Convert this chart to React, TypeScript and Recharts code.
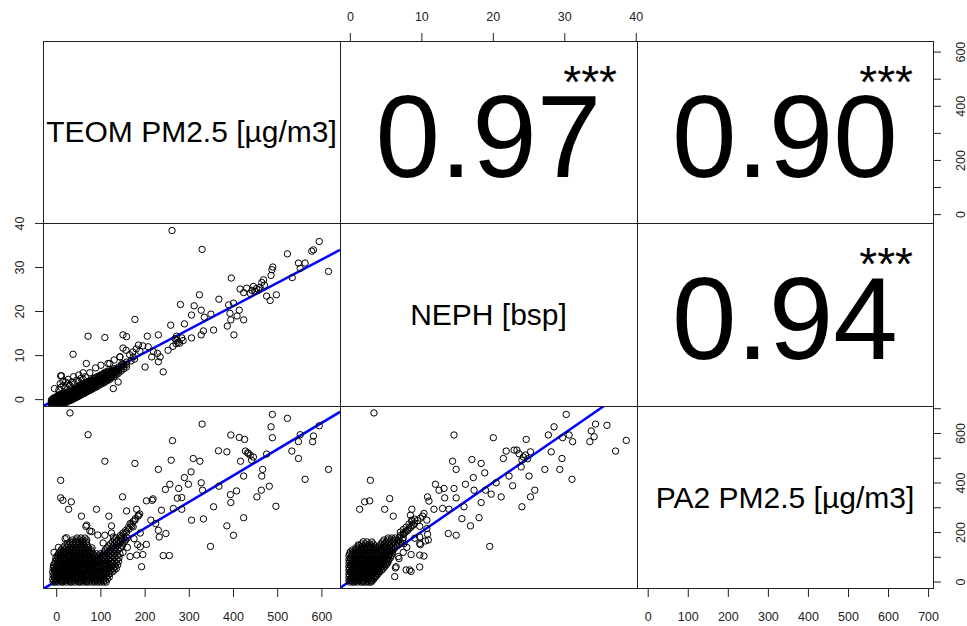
import { ReferenceLine, Scatter, ScatterChart, XAxis, YAxis } from 'recharts';

const FONT = "'Liberation Sans', Arial, Helvetica, sans-serif";

// variable order: TEOM, NEPH, PA2
const varLabels = ['TEOM PM2.5 [µg/m3]', 'NEPH [bsp]', 'PA2 PM2.5 [µg/m3]'];
const teomTicks = [0, 100, 200, 300, 400, 500, 600];
const nephTicks = [0, 10, 20, 30, 40];
const pa2Ticks = [0, 100, 200, 300, 400, 500, 600, 700];
const teomDomain: [number, number] = [-31, 641];
const nephDomain: [number, number] = [-1.45, 40.1];
const pa2Domain: [number, number] = [-28, 711];

// correlations shown in upper panels
const corrTeomNeph = '0.97';
const corrTeomPa2 = '0.90';
const corrNephPa2 = '0.94';
const corrStars = '***';

// fitted lines
const fitTeomNeph = { slope: 0.0528, intercept: 0.14 };
const fitTeomPa2 = { slope: 1.064, intercept: 5 };
const fitNephPa2 = { slope: 19.9, intercept: 5 };

// TEOM vs NEPH: dense band near the origin, as [TEOM, NEPH values]
const teomNephBand: [number, number[]][] = [
  [-12, [-1.3, -0.9, -0.5, -0.1]],
  [-10, [-1.2, -0.8, -0.3, 0.1]],
  [-7, [-1.3, -0.9, -0.5, 0.0, 0.4]],
  [-5, [-1.1, -0.6, -0.2, 0.3]],
  [-2, [-1.2, -0.8, -0.3, 0.1, 0.5]],
  [0, [-1.0, -0.6, -0.1, 0.3, 0.7]],
  [3, [-1.2, -0.7, -0.3, 0.2, 0.6, 1.0]],
  [5, [-0.9, -0.5, 0.0, 0.4, 0.8]],
  [8, [-1.0, -0.6, -0.1, 0.3, 0.8, 1.2]],
  [10, [-0.8, -0.4, 0.1, 0.5, 0.9]],
  [13, [-0.9, -0.4, 0.0, 0.4, 0.9, 1.3]],
  [15, [-0.7, -0.2, 0.2, 0.6, 1.1]],
  [18, [-0.6, -0.2, 0.3, 0.7, 1.1, 1.5]],
  [21, [-0.5, 0.0, 0.4, 0.8, 1.3]],
  [23, [-0.6, -0.1, 0.3, 0.8, 1.2, 1.6]],
  [26, [-0.3, 0.1, 0.6, 1.0, 1.4, 1.8]],
  [28, [-0.2, 0.3, 0.7, 1.1, 1.6]],
  [31, [-0.2, 0.2, 0.6, 1.1, 1.5, 1.9]],
  [34, [0.0, 0.4, 0.9, 1.3, 1.7, 2.2]],
  [36, [0.1, 0.5, 1.0, 1.4, 1.8]],
  [39, [0.2, 0.6, 1.1, 1.5, 1.9, 2.4]],
  [42, [0.4, 0.8, 1.2, 1.7, 2.1, 2.5]],
  [44, [0.5, 0.9, 1.3, 1.8, 2.2]],
  [47, [0.6, 1.0, 1.5, 1.9, 2.3, 2.8]],
  [50, [0.8, 1.2, 1.6, 2.1, 2.5, 2.9]],
  [53, [1.0, 1.4, 1.8, 2.2, 2.7, 3.1]],
  [56, [1.1, 1.5, 2.0, 2.4, 2.8, 3.2]],
  [59, [1.3, 1.7, 2.1, 2.6, 3.0, 3.4]],
  [62, [1.4, 1.8, 2.3, 2.7, 3.1, 3.6]],
  [65, [1.6, 2.0, 2.4, 2.9, 3.3, 3.7]],
  [68, [1.8, 2.2, 2.6, 3.0, 3.5, 3.9]],
  [71, [1.9, 2.3, 2.8, 3.2, 3.6, 4.0]],
  [74, [2.1, 2.5, 2.9, 3.4, 3.8, 4.2]],
  [77, [2.2, 2.6, 3.1, 3.5, 3.9, 4.4]],
  [80, [2.4, 2.8, 3.2, 3.7, 4.1, 4.5]],
  [84, [2.6, 3.0, 3.5, 3.9, 4.3, 4.8]],
  [88, [2.8, 3.2, 3.7, 4.1, 4.5, 5.0]],
  [92, [3.0, 3.4, 3.9, 4.3, 4.7, 5.2]],
  [96, [3.3, 3.7, 4.1, 4.5, 5.0, 5.4]],
  [100, [3.5, 3.9, 4.3, 4.8, 5.2, 5.6]],
  [104, [3.7, 4.1, 4.6, 5.0, 5.4, 5.8]],
  [108, [3.9, 4.4, 4.8, 5.2, 5.7, 6.1]],
  [112, [4.2, 4.6, 5.0, 5.5, 5.9, 6.3]],
  [116, [4.4, 4.8, 5.3, 5.7, 6.1, 6.5]],
  [120, [4.6, 5.1, 5.5, 5.9, 6.4]],
  [125, [5.0, 5.4, 5.8, 6.3, 6.7]],
  [130, [5.3, 5.7, 6.2, 6.6, 7.0]],
  [135, [5.7, 6.1, 6.5, 7.0]],
  [140, [6.0, 6.5, 6.9, 7.4]],
  [146, [6.5, 6.9, 7.4, 7.9]],
  [152, [7.0, 7.5, 8.0]],
  [158, [7.4, 8.0, 8.5]],
];

const teomNephOut: [number, number][] = [
  [5, 2.2], [10, 2.8], [15, 3.2], [20, 2.8], [25, 3.6], [30, 3.2], [35, 4.0], [40, 3.6], [45, 4.4],
  [50, 4.1], [55, 4.8], [60, 4.6], [65, 5.2], [8, 3.6], [14, 4.2], [26, 4.6], [38, 5.2], [50, 5.6],
  [11, 5.4], [60, 6.1], [75, 6.1], [67, 8.2], [116, 8.2], [143, 9.7], [150, 11.7], [88, 7.2],
  [100, 7.8], [130, 9.0], [-5, 2.5], [20, 4.0],
  [261, 38.4], [329, 34.1], [594, 35.9], [577, 33.7], [581, 34.0], [615, 29.1], [522, 33.1],
  [547, 31.0], [562, 31.0], [533, 27.7], [551, 29.8], [489, 30.1], [487, 29.5], [485, 28.2],
  [497, 23.8], [483, 22.5], [475, 23.5], [395, 27.6], [415, 25.1], [430, 25.3], [445, 25.7],
  [457, 24.9], [464, 26.6], [468, 27.2], [438, 24.1], [423, 24.3], [448, 24.6], [452, 25.2],
  [460, 25.5], [442, 24.8], [470, 26.0], [389, 21.5], [400, 21.9], [413, 20.3], [392, 19.6],
  [408, 19.0], [394, 18.1], [423, 18.1], [386, 16.7], [401, 14.7], [367, 22.8], [355, 15.8],
  [349, 19.4], [334, 18.7], [327, 20.3], [323, 23.8], [311, 21.3], [305, 19.2], [280, 21.6],
  [289, 17.2], [283, 14.0], [305, 14.0], [332, 15.6], [327, 14.7], [258, 16.9], [271, 14.4],
  [286, 13.4], [278, 12.8], [263, 12.1], [252, 11.2], [272, 13.5], [275, 13.0], [270, 12.7],
  [268, 13.8], [241, 6.3], [230, 14.7], [205, 14.4], [207, 12.0], [228, 10.5], [234, 9.7],
  [215, 9.7], [219, 10.9], [200, 7.4], [230, 8.6], [177, 18.2], [185, 12.4], [173, 9.7],
  [157, 11.2], [150, 14.7], [158, 14.3], [143, 9.7], [128, 2.5], [139, 4.0], [71, 14.4],
  [109, 14.1], [37, 10.3], [9, 5.4], [120, 8.2], [150, 8.2], [97, 5.2], [165, 10.2], [172, 10.8],
  [180, 11.5], [188, 11.0], [195, 12.2], [168, 8.8], [176, 9.2],
];

// TEOM vs PA2: dense block near the origin, as [PA2, TEOM values]
const teomPa2Rows: [number, number[]][] = [
  [0, [-8, -3, 3, 11, 15, 22, 30, 34, 41, 49, 53, 60, 67, 72, 80, 86, 93, 99, 106, 112]],
  [6, [-6, 0, 7, 12, 19, 26, 31, 38, 44, 51, 57, 64, 69, 76, 83, 89, 96, 103, 110]],
  [13, [-9, -2, 4, 9, 16, 23, 28, 35, 43, 47, 55, 61, 66, 74, 79, 87, 92, 100, 107, 115]],
  [20, [-5, 1, 8, 14, 18, 25, 33, 39, 45, 50, 58, 63, 71, 77, 84, 90, 97, 104, 112, 119]],
  [27, [-8, -1, 5, 11, 20, 24, 29, 36, 42, 48, 54, 62, 68, 73, 81, 88, 94, 101, 108, 116]],
  [34, [-6, 2, 6, 13, 17, 27, 32, 37, 46, 52, 56, 65, 70, 78, 83, 91, 98, 105, 113, 120]],
  [41, [-9, -3, 3, 9, 15, 21, 26, 34, 40, 44, 51, 59, 63, 71, 76, 85, 89, 96, 103, 111, 118, 126]],
  [48, [-5, 0, 7, 12, 18, 24, 31, 36, 43, 49, 55, 61, 67, 74, 80, 86, 93, 100, 108, 115, 122, 130]],
  [55, [-8, -2, 4, 10, 16, 23, 28, 33, 40, 47, 53, 57, 64, 70, 77, 83, 90, 97, 104, 112, 119, 128, 135]],
  [62, [-6, 1, 6, 13, 19, 26, 30, 38, 44, 50, 58, 62, 69, 75, 81, 88, 95, 101, 109, 116, 124, 132]],
  [69, [-7, -1, 5, 9, 16, 22, 28, 35, 41, 46, 52, 60, 66, 72, 79, 84, 92, 99, 106, 113, 121, 130, 138]],
  [76, [-4, 2, 8, 14, 20, 25, 32, 37, 44, 49, 56, 63, 68, 76, 82, 89, 96, 103, 111, 118, 126, 134]],
  [84, [-3, 4, 10, 17, 21, 28, 34, 40, 47, 53, 59, 65, 71, 78, 85, 91, 98, 106, 114, 123, 131, 140]],
  [91, [0, 6, 12, 18, 24, 31, 36, 43, 50, 54, 61, 68, 74, 80, 87, 94, 101, 109, 117, 125, 136]],
  [98, [-2, 3, 9, 15, 22, 27, 33, 39, 45, 52, 58, 64, 71, 77, 83, 90, 98, 106, 113, 121, 130, 141]],
  [106, [1, 7, 13, 19, 26, 30, 37, 42, 48, 55, 62, 67, 73, 81, 88, 96, 104, 112, 119, 127, 137]],
  [114, [4, 9, 15, 21, 27, 33, 39, 45, 51, 57, 63, 69, 75, 82, 90, 98, 106, 114, 122, 131, 143]],
  [122, [8, 14, 20, 26, 31, 38, 44, 50, 56, 62, 68, 74, 80, 108, 117, 125, 134]],
  [130, [10, 17, 24, 30, 37, 44, 51, 58, 65, 72, 78, 110, 121, 129, 139]],
  [138, [14, 22, 29, 36, 43, 50, 57, 64, 71, 80, 114, 124, 133, 145]],
  [146, [18, 26, 33, 40, 47, 54, 62, 70, 118, 128, 137, 148]],
  [154, [24, 31, 38, 45, 52, 60, 68, 122, 131, 140, 150]],
  [162, [30, 37, 44, 51, 59, 67, 126, 135, 144, 153]],
  [170, [36, 44, 52, 60, 68, 130, 139, 148, 156]],
  [178, [46, 55, 64, 135, 144, 152, 160]],
];

const teomPa2Out: [number, number][] = [
  [144, 188], [150, 198], [156, 208], [162, 220], [168, 232], [173, 245], [178, 256], [184, 266],
  [188, 275], [146, 182], [152, 192], [158, 202], [164, 214], [170, 226],
  [68, 230], [79, 204], [93, 190], [124, 198], [105, 158], [19, 175], [4, 140], [-6, 120],
  [189, 198], [189, 142], [166, 103], [181, 109], [150, 120], [160, 140], [175, 175],
  [30, 683], [71, 595], [109, 488], [177, 479], [9, 411], [9, 340], [14, 330], [33, 324], [27, 294],
  [56, 266], [90, 294], [66, 225], [75, 206], [22, 179], [149, 344], [118, 266], [124, 227],
  [109, 189], [128, 182], [158, 287], [181, 294], [185, 270], [177, 250], [166, 236], [173, 223],
  [183, 151], [203, 152], [195, 111], [192, 62], [203, 328], [216, 330], [218, 336], [230, 455],
  [237, 290], [213, 250], [224, 236], [230, 209], [232, 182], [247, 196], [241, 107], [255, 107],
  [256, 395], [246, 374], [259, 492], [262, 571], [276, 378], [273, 339], [283, 341], [289, 422],
  [298, 395], [304, 445], [264, 297], [283, 294], [305, 250], [309, 499], [324, 488], [329, 638],
  [327, 401], [330, 371], [332, 255], [355, 304], [348, 144], [366, 530], [385, 526], [367, 387],
  [385, 227], [394, 594], [393, 353], [400, 189], [394, 321], [407, 368], [413, 584], [425, 576],
  [416, 488], [427, 529], [434, 519], [441, 492], [438, 512], [445, 505], [432, 522], [423, 260],
  [423, 428], [453, 344], [463, 371], [464, 428], [466, 455], [475, 517], [481, 387], [488, 677],
  [485, 627], [488, 583], [496, 306], [522, 661], [532, 529], [547, 499], [547, 567], [551, 595],
  [562, 415], [579, 567], [581, 590], [594, 631], [615, 455],
];

// NEPH vs PA2: dense block near the origin, as [PA2, NEPH values]
const nephPa2Rows: [number, number[]][] = [
  [0, [-0.1, 0.3, 0.6, 1.0, 1.5, 1.8, 2.2, 2.6, 2.9]],
  [6, [-0.2, 0.1, 0.5, 0.9, 1.2, 1.7, 2.0, 2.4, 2.8, 3.1]],
  [13, [0.0, 0.4, 0.7, 1.1, 1.4, 1.9, 2.3, 2.6, 3.0, 3.3]],
  [20, [-0.2, 0.2, 0.6, 1.0, 1.3, 1.7, 2.1, 2.5, 2.9, 3.2, 3.5]],
  [27, [-0.1, 0.3, 0.7, 1.1, 1.5, 1.8, 2.2, 2.7, 3.0, 3.4, 3.7]],
  [34, [-0.2, 0.2, 0.5, 0.9, 1.3, 1.7, 2.1, 2.4, 2.8, 3.2, 3.6, 3.9]],
  [41, [0.0, 0.4, 0.8, 1.2, 1.5, 1.9, 2.3, 2.7, 3.1, 3.4, 3.8, 4.1]],
  [48, [-0.2, 0.2, 0.6, 1.0, 1.4, 1.8, 2.1, 2.5, 2.9, 3.3, 3.7, 4.0, 4.4]],
  [55, [-0.1, 0.3, 0.7, 1.1, 1.5, 1.9, 2.3, 2.7, 3.0, 3.4, 3.8, 4.2, 4.6]],
  [62, [-0.2, 0.1, 0.5, 0.9, 1.3, 1.7, 2.1, 2.5, 2.9, 3.3, 3.6, 4.0, 4.4, 4.8]],
  [69, [0.0, 0.4, 0.8, 1.2, 1.6, 2.0, 2.3, 2.7, 3.1, 3.5, 3.9, 4.3, 4.7, 5.0]],
  [76, [-0.2, 0.2, 0.6, 1.0, 1.4, 1.8, 2.2, 2.6, 3.0, 3.4, 3.8, 4.2, 4.5, 4.9, 5.2]],
  [84, [-0.1, 0.3, 0.7, 1.1, 1.5, 1.9, 2.4, 2.7, 3.1, 3.5, 3.9, 4.3, 4.7, 5.1, 5.3]],
  [91, [-0.2, 0.1, 0.5, 0.9, 1.3, 1.7, 2.1, 2.5, 2.9, 3.4, 3.8, 4.2, 4.6, 5.0, 5.4]],
  [98, [0.0, 0.4, 0.8, 1.2, 1.6, 2.0, 2.4, 2.8, 3.2, 3.6, 4.0, 4.4, 4.8, 5.2, 5.6]],
  [106, [-0.2, 0.2, 0.6, 1.0, 1.4, 1.8, 2.2, 2.6, 3.0, 3.4, 3.8, 4.2, 4.6, 5.0, 5.4, 5.7]],
  [114, [-0.1, 0.3, 0.7, 1.1, 1.5, 1.9, 2.3, 2.7, 3.1, 3.5, 3.9, 4.3, 4.7, 5.1, 5.5, 5.8]],
  [122, [0.0, 0.4, 0.8, 1.2, 1.6, 2.0, 2.4, 2.8, 3.2, 3.6, 4.0, 4.4, 4.8, 5.2, 5.6, 5.9]],
  [130, [0.3, 0.7, 1.1, 1.5, 1.9, 2.3, 2.7, 3.1, 3.5, 3.9, 4.3, 4.7, 5.1, 5.5, 6.0]],
  [138, [0.8, 1.2, 1.6, 2.0, 2.4, 2.8, 3.2, 3.6, 4.0, 4.4, 4.8, 5.2, 5.7, 6.2]],
  [146, [1.2, 1.7, 2.1, 2.6, 3.0, 3.5, 4.1, 4.6, 5.0, 5.5, 6.0, 6.5]],
  [154, [1.6, 2.1, 2.7, 3.2, 4.3, 4.8, 5.3, 5.8, 6.3, 6.8]],
  [162, [2.3, 3.0, 4.5, 5.0, 5.5, 6.0, 6.5, 7.0]],
  [170, [4.7, 5.2, 5.7, 6.2, 6.7, 7.3]],
  [178, [5.3, 5.8, 6.3, 6.8, 7.4]],
];

const nephPa2Out: [number, number][] = [
  [7.4, 195], [7.8, 205], [8.2, 215], [8.6, 228], [9.0, 238], [9.4, 248], [9.8, 258], [10.1, 266],
  [7.0, 202], [7.4, 212], [7.8, 222], [8.2, 234], [8.6, 244], [9.0, 254], [7.0, 188], [7.6, 198],
  [8.0, 208], [8.4, 220], [8.8, 230],
  [1.8, 163], [1.1, 150], [9.0, 177], [9.7, 182], [10.9, 170], [9.7, 156], [9.7, 109], [6.4, 62],
  [7.8, 49], [8.3, 49], [6.7, 103], [6.2, 22], [6.8, 95], [7.4, 120], [7.9, 140],
  [3.3, 683], [14.5, 594], [20.0, 583], [24.6, 576], [30.2, 677], [28.5, 627], [27.7, 594], [29.7, 583],
  [30.6, 594], [31.1, 567], [33.5, 567], [33.7, 610], [34.3, 638], [34.1, 587], [35.9, 633], [38.6, 572],
  [37.1, 529], [31.0, 415], [29.6, 499], [29.3, 455], [28.1, 526], [27.2, 455], [25.0, 428], [25.8, 371],
  [25.2, 344], [24.0, 304], [23.9, 465], [24.0, 492], [24.5, 513], [25.2, 526], [24.2, 505], [24.8, 498],
  [23.6, 518], [23.3, 533], [22.9, 533], [21.8, 529], [21.4, 499], [22.2, 428], [22.7, 389], [21.1, 344],
  [19.7, 355], [19.5, 144], [20.4, 401], [18.8, 441], [18.3, 479], [17.0, 495], [17.2, 422], [18.9, 371],
  [18.3, 321], [17.3, 371], [16.1, 395], [18.0, 260], [16.8, 227], [15.6, 256], [14.8, 189], [13.7, 196],
  [14.8, 455], [14.3, 488], [14.5, 378], [14.8, 340], [15.9, 304], [13.1, 378], [13.2, 340], [11.9, 395],
  [12.4, 371], [10.8, 344], [11.0, 327], [12.9, 297], [13.8, 294], [11.7, 294], [10.3, 277], [10.7, 250],
  [9.7, 225], [10.7, 216], [10.8, 193], [10.5, 166], [9.8, 151], [10.3, 105], [9.7, 61], [8.5, 43],
  [8.5, 111], [7.5, 155], [7.4, 192], [6.3, 57], [5.4, 111], [2.8, 411], [5.5, 337], [2.7, 328],
  [2.0, 324], [1.3, 294], [4.8, 294], [6.0, 266], [8.6, 294], [8.4, 270], [8.6, 250],
];

const teomNeph: [number, number][] = [
  ...teomNephBand.flatMap(([t, ns]) => ns.map((n) => [t, n] as [number, number])),
  ...teomNephOut,
];
const teomPa2: [number, number][] = [
  ...teomPa2Rows.flatMap(([p, ts]) => ts.map((t) => [t, p] as [number, number])),
  ...teomPa2Out,
];
const nephPa2: [number, number][] = [
  ...nephPa2Rows.flatMap(([p, ns]) => ns.map((n) => [n, p] as [number, number])),
  ...nephPa2Out,
];

const domains = [teomDomain, nephDomain, pa2Domain];
const varTicks = [teomTicks, nephTicks, pa2Ticks];

// panel grid (page pixels)
const colX = [43, 340, 637];
const colW = [297, 297, 296];
const rowY = [41, 223, 406];
const rowH = [182, 183, 183];
const AXIS = { left: 43, right: 34, top: 41, bottom: 37 };
const TICK_MARGIN = { left: 11, right: 24, top: 12.3, bottom: 23.7 };
const PAD = 14;

type Side = 'left' | 'right' | 'top' | 'bottom';

function AxisTick(props: any) {
  const { x, y, payload, side, every } = props;
  const v = payload?.value;
  if (every && v % every !== 0) return null;
  const style = { fontSize: 12.5, fill: '#222', fontFamily: FONT };
  if (side === 'left' || side === 'right') {
    return (
      <text x={x} y={y} textAnchor="middle" transform={`rotate(-90 ${x} ${y})`} {...style}>
        {v}
      </text>
    );
  }
  return (
    <text x={x} y={y} textAnchor="middle" {...style}>
      {v}
    </text>
  );
}

const Ring = (p: any) => <circle cx={p.cx} cy={p.cy} r={3.2} fill="none" stroke="#000" strokeWidth={1} />;

interface PanelProps {
  row: number;
  col: number;
  xSide?: 'top' | 'bottom';
  ySide?: 'left' | 'right';
  yEvery?: number;
  points?: [number, number][];
  fit?: { slope: number; intercept: number };
  label?: string;
  corr?: string;
}

function Panel({ row, col, xSide, ySide, yEvery, points, fit, label, corr }: PanelProps) {
  const L = ySide === 'left' ? AXIS.left : 0;
  const R = ySide === 'right' ? AXIS.right : 0;
  const T = xSide === 'top' ? AXIS.top : 0;
  const B = xSide === 'bottom' ? AXIS.bottom : 0;
  const w = colW[col];
  const h = rowH[row];
  const xd = domains[col];
  const yd = domains[row];
  const data = (points ?? []).map(([x, y]) => ({ x, y }));
  const ox = PAD + L;
  const oy = PAD + T;

  return (
    <div style={{ position: 'absolute', left: colX[col] - L - PAD, top: rowY[row] - T - PAD }}>
      <ScatterChart
        width={w + L + R + 2 * PAD}
        height={h + T + B + 2 * PAD}
        margin={{ top: PAD, right: PAD, bottom: PAD, left: PAD }}
      >
        <XAxis
          type="number"
          dataKey="x"
          domain={xd}
          allowDataOverflow
          hide={!xSide}
          orientation={xSide ?? 'bottom'}
          height={T || B || 1}
          ticks={varTicks[col]}
          interval={0}
          tickSize={8}
          tickMargin={xSide ? TICK_MARGIN[xSide as Side] : 0}
          axisLine={false}
          tickLine={{ stroke: '#222' }}
          tick={<AxisTick side={xSide} />}
        />
        <YAxis
          type="number"
          dataKey="y"
          domain={yd}
          allowDataOverflow
          hide={!ySide}
          orientation={ySide ?? 'left'}
          width={L || R || 1}
          ticks={varTicks[row]}
          interval={0}
          tickSize={8}
          tickMargin={ySide ? TICK_MARGIN[ySide as Side] : 0}
          axisLine={false}
          tickLine={{ stroke: '#222' }}
          tick={<AxisTick side={ySide} every={yEvery} />}
        />
        {points && <Scatter data={data} shape={Ring} isAnimationActive={false} />}
        {fit && (
          <ReferenceLine
            segment={[
              { x: xd[0], y: fit.intercept + fit.slope * xd[0] },
              { x: xd[1], y: fit.intercept + fit.slope * xd[1] },
            ]}
            stroke="#0000ff"
            strokeWidth={2.5}
            ifOverflow="hidden"
          />
        )}
        {label && (
          <text x={ox + w / 2} y={oy + h / 2 + 10} textAnchor="middle" fontSize={30} fontFamily={FONT} fill="#000">
            {label}
          </text>
        )}
        {corr && (
          <text x={ox + w / 2} y={oy + 136} textAnchor="middle" fontSize={116} fontFamily={FONT} fill="#000">
            {corr}
          </text>
        )}
        {corr && (
          <text x={ox + w - 20} y={oy + 57} textAnchor="end" fontSize={46} fontFamily={FONT} fill="#000">
            {corrStars}
          </text>
        )}
      </ScatterChart>
    </div>
  );
}

const frameXs = [43, 340, 637, 933];
const frameYs = [41, 223, 406, 588];

export default function App() {
  return (
    <div
      style={{
        position: 'absolute',
        left: 0,
        top: 0,
        width: 967,
        height: 626,
        background: '#fff',
        overflow: 'hidden',
        fontFamily: FONT,
      }}
    >
      <Panel row={0} col={0} label={varLabels[0]} />
      <Panel row={0} col={1} xSide="top" corr={corrTeomNeph} />
      <Panel row={0} col={2} ySide="right" yEvery={200} corr={corrTeomPa2} />
      <Panel row={1} col={0} ySide="left" points={teomNeph} fit={fitTeomNeph} />
      <Panel row={1} col={1} label={varLabels[1]} />
      <Panel row={1} col={2} corr={corrNephPa2} />
      <Panel row={2} col={0} xSide="bottom" points={teomPa2} fit={fitTeomPa2} />
      <Panel row={2} col={1} points={nephPa2} fit={fitNephPa2} />
      <Panel row={2} col={2} xSide="bottom" ySide="right" yEvery={200} label={varLabels[2]} />
      {frameXs.map((x) => (
        <div key={'v' + x} style={{ position: 'absolute', left: x, top: 41, width: 1, height: 548, background: '#222' }} />
      ))}
      {frameYs.map((y) => (
        <div key={'h' + y} style={{ position: 'absolute', left: 43, top: y, width: 891, height: 1, background: '#222' }} />
      ))}
    </div>
  );
}
